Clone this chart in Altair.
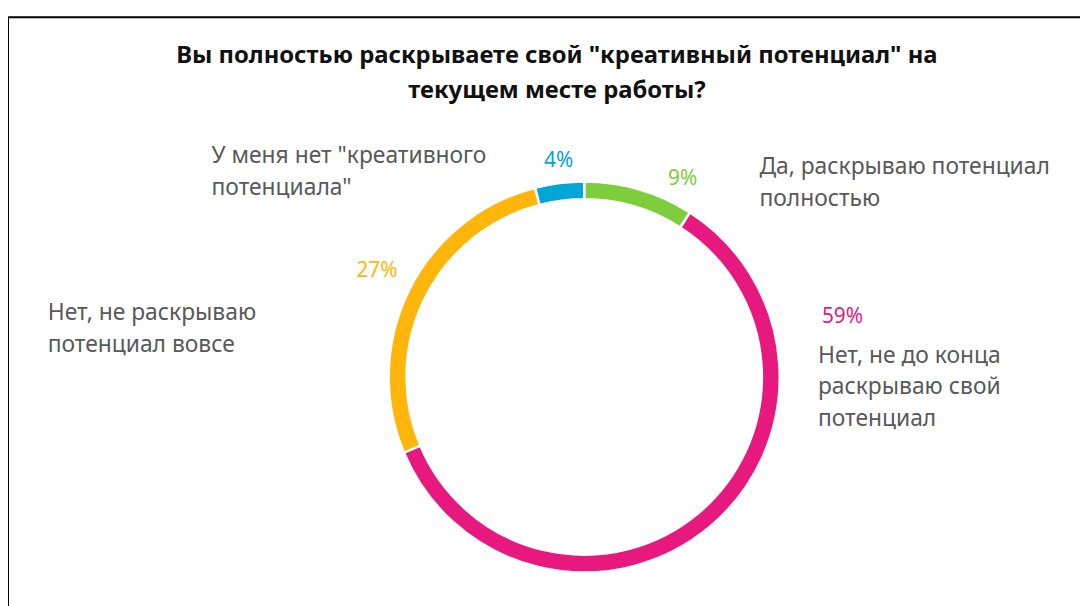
import altair as alt
import pandas as pd

# ---- data ----
categories = [
    "Да, раскрываю потенциал полностью",
    "Нет, не до конца раскрываю свой потенциал",
    "Нет, не раскрываю потенциал вовсе",
    'У меня нет "креативного потенциала"',
]
values = [9, 59, 27, 4]
pct_labels = ["9%", "59%", "27%", "4%"]
cat_lines = [
    "Да, раскрываю потенциал\nполностью",
    "Нет, не до конца\nраскрываю свой\nпотенциал",
    "Нет, не раскрываю\nпотенциал вовсе",
    'У меня нет "креативного\nпотенциала"',
]
title_text = 'Вы полностью раскрываете свой "креативный потенциал" на\nтекущем месте работы?'

# ---- styles / layout ----
colors = ["#7DCD3C", "#E8197E", "#FFB50A", "#00A6D6"]
FONT = "Noto Sans"
W, H = 1080, 598
CX, CY = 580.5, 369.5  # ring centre (chart coords)
# label anchor positions (chart coords: left x, first-line baseline y)
pct_pos = [(665, 176), (820, 315), (351, 269), (540, 158)]
cat_pos = [(757, 165), (816, 355), (40, 312), (205, 154)]

df = pd.DataFrame({
    "cat": categories,
    "val": values,
    "order": list(range(len(categories))),
})

color_scale = alt.Scale(domain=categories, range=colors)

ring = alt.Chart(df).mark_arc(
    innerRadius=179, outerRadius=197, stroke="white", strokeWidth=2.5
).encode(
    theta=alt.Theta("val:Q", stack=True),
    order=alt.Order("order:Q"),
    color=alt.Color("cat:N", scale=color_scale, legend=None),
    x=alt.value(CX),
    y=alt.value(CY),
)

lab_df = pd.DataFrame({
    "cat": categories,
    "pct": pct_labels,
    "lines": cat_lines,
    "px": [p[0] for p in pct_pos],
    "py": [p[1] for p in pct_pos],
    "lx": [p[0] for p in cat_pos],
    "ly": [p[1] for p in cat_pos],
})

pct = alt.Chart(lab_df).mark_text(
    font=FONT, fontSize=21, align="left", baseline="alphabetic"
).encode(
    x=alt.X("px:Q", scale=None),
    y=alt.Y("py:Q", scale=None),
    text="pct:N",
    color=alt.Color("cat:N", scale=color_scale, legend=None),
)

cats = alt.Chart(lab_df).mark_text(
    font=FONT, fontSize=23, align="left", baseline="alphabetic",
    lineBreak="\n", lineHeight=32, color="#595959"
).encode(
    x=alt.X("lx:Q", scale=None),
    y=alt.Y("ly:Q", scale=None),
    text="lines:N",
)

title_df = pd.DataFrame({"t": [title_text]})
title = alt.Chart(title_df).mark_text(
    font=FONT, fontSize=24, fontWeight="bold", align="center",
    baseline="alphabetic", lineBreak="\n", lineHeight=35, color="#111111"
).encode(
    x=alt.value(553), y=alt.value(53), text="t:N"
)

frame = alt.Chart(title_df).mark_rect(
    fill=None, stroke="black", strokeWidth=2
).encode(
    x=alt.value(0), x2=alt.value(W + 10), y=alt.value(7), y2=alt.value(H + 10)
)

chart = alt.layer(frame, ring, pct, cats, title).properties(
    width=W, height=H, padding=0, autosize=alt.AutoSizeParams(type="none")
).configure_view(stroke=None)

chart.save("out.html", embed_options={"renderer": "svg", "actions": False})
